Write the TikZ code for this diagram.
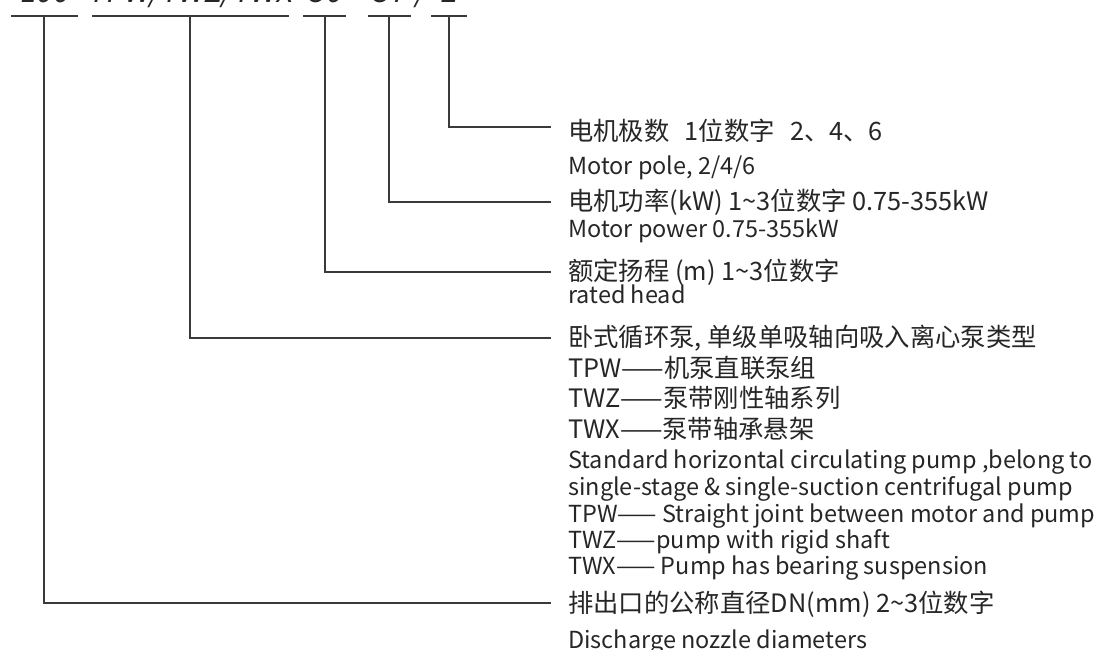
\documentclass[tikz,border=0pt]{standalone}
\usepackage{fontspec}
\newfontfamily\cjk{Noto Sans CJK SC}
\newfontfamily\codefont{Noto Sans CJK SC}[FakeSlant=0.2]
\definecolor{ink}{HTML}{262626}
\definecolor{rulegray}{HTML}{3A3A3A}

\begin{document}
\begin{tikzpicture}[x=0.75pt,y=-0.75pt,
	rule/.style={draw=rulegray, line width=0.9pt},
	head/.style={anchor=base west, inner sep=0pt, text=ink, font=\cjk\fontsize{19}{19}\selectfont},
	sub/.style={anchor=base west, inner sep=0pt, text=ink, font=\cjk\fontsize{17.6}{17.6}\selectfont},
	code/.style={anchor=base, inner sep=0pt, text=ink, font=\codefont\fontsize{22}{22}\selectfont}]
	\useasboundingbox (0,0) rectangle (1101,650);
	\begin{scope}
	\clip (0,0) rectangle (1101,650);
	% model code, cut at the top edge
	\node[code] (dn) at (44,2) {100};
	\node[code] (ty) at (190,2) {TPW/TWZ/TWX};
	\node[code] (hd) at (325,2) {50};
	\node[code] (pw) at (389,2) {37};
	\node[code] (sl) at (420,2) {/};
	\node[code] (pl) at (449,2) {2};
	\coordinate (top) at (0,16);
	\foreach \a/\b in {11/78,92/289,303/346,368/411,431/467} {
		\draw[rule] (\a,16) -- (\b,16);
	}
	% meanings
	\node[head] (pole) at (568,140) {电机极数\hspace{0.6em}1位数字\hspace{0.6em}2、4、6};
	\node[sub] (poleEn) at (568,174) {Motor pole, 2/4/6};
	\node[head] (power) at (568,210) {电机功率(kW) 1\textasciitilde3位数字 0.75-355kW};
	\node[sub] (powerEn) at (568,237) {Motor power 0.75-355kW};
	\node[head] (lift) at (568,280) {额定扬程 (m) 1\textasciitilde3位数字};
	\node[sub] (liftEn) at (568,303) {rated head};
	\node[head] (type) at (568,346) {卧式循环泵, 单级单吸轴向吸入离心泵类型};
	\node[head] (tpw) at (568,377) {TPW——机泵直联泵组};
	\node[head] (twz) at (568,407) {TWZ——泵带刚性轴系列};
	\node[head] (twx) at (568,438) {TWX——泵带轴承悬架};
	\node[sub] (typeEnA) at (568,468) {Standard horizontal circulating pump ,belong to};
	\node[sub] (typeEnB) at (568,495) {single-stage \& single-suction centrifugal pump};
	\node[sub] (tpwEn) at (568,522) {TPW—— Straight joint between motor and pump};
	\node[sub] (twzEn) at (568,548) {TWZ——pump with rigid shaft};
	\node[sub] (twxEn) at (568,574) {TWX—— Pump has bearing suspension};
	\node[head] (dia) at (568,612) {排出口的公称直径DN(mm) 2\textasciitilde3位数字};
	\node[sub] (diaEn) at (568,648) {Discharge nozzle diameters};
	% leaders
	\coordinate (e1) at (551,127);
	\coordinate (e2) at (551,202);
	\coordinate (e3) at (551,272);
	\coordinate (e4) at (551,338);
	\coordinate (e5) at (551,603);
	\draw[rule] (pl.base |- top) |- (e1);
	\draw[rule] (pw.base |- top) |- (e2);
	\draw[rule] (hd.base |- top) |- (e3);
	\draw[rule] (ty.base |- top) |- (e4);
	\draw[rule] (dn.base |- top) |- (e5);
	\end{scope}
\end{tikzpicture}
\end{document}
